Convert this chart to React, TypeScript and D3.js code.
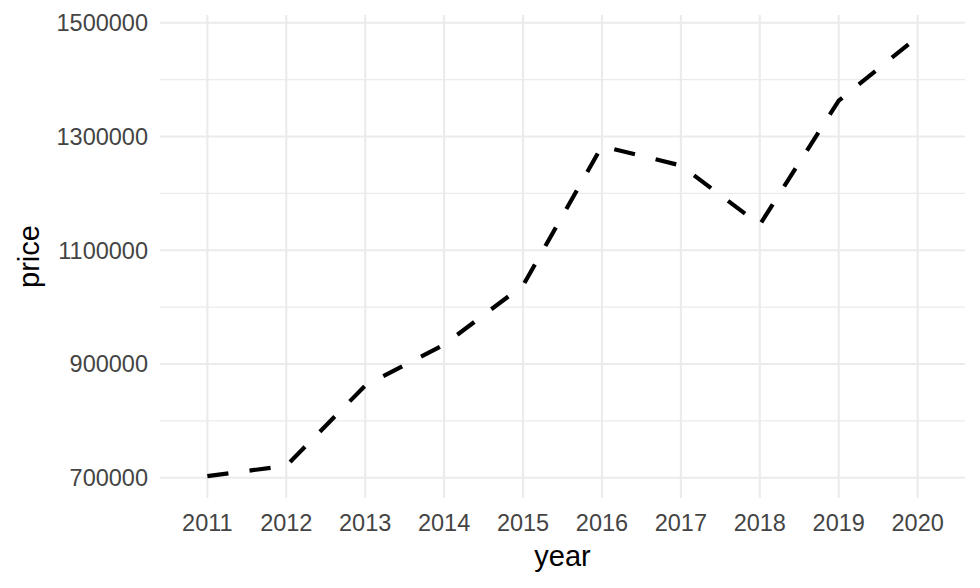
import React from "react";
import * as d3 from "d3";

const years = ["2011", "2012", "2013", "2014", "2015", "2016", "2017", "2018", "2019", "2020"];
const prices = [703000, 721000, 862000, 934000, 1038000, 1283000, 1249000, 1145000, 1363000, 1475000];
const yMajorTicks = [700000, 900000, 1100000, 1300000, 1500000];
const yMinorTicks = [800000, 1000000, 1200000, 1400000];
const xTitle = "year";
const yTitle = "price";

const W = 980;
const H = 588;
const panel = { left: 160, right: 965, top: 15, bottom: 498 };
const FONT = "Liberation Sans, Arial, sans-serif";
const TICK_FS = 23.5;
const TITLE_FS = 29;

export default function App() {
  const x = d3.scalePoint<string>().domain(years).range([panel.left, panel.right]).padding(0.6);
  const ext = d3.extent(prices) as [number, number];
  const pad = (ext[1] - ext[0]) * 0.05;
  const y = d3.scaleLinear().domain([ext[0] - pad, ext[1] + pad]).range([panel.bottom, panel.top]);
  const line = d3
    .line<number>()
    .x((_, i) => x(years[i]) as number)
    .y((d) => y(d));

  return (
    <svg width={W} height={H} style={{ position: "absolute", left: 0, top: 0, background: "#fff" }}>
      <rect x={0} y={0} width={W} height={H} fill="#fff" />
      {yMinorTicks.map((t) => (
        <line key={"mi" + t} x1={panel.left} x2={panel.right} y1={y(t)} y2={y(t)} stroke="#EBEBEB" strokeWidth={1.1} />
      ))}
      {yMajorTicks.map((t) => (
        <line key={"ma" + t} x1={panel.left} x2={panel.right} y1={y(t)} y2={y(t)} stroke="#EBEBEB" strokeWidth={2.1} />
      ))}
      {years.map((yr) => (
        <line key={"vx" + yr} x1={x(yr)} x2={x(yr)} y1={panel.top} y2={panel.bottom} stroke="#EBEBEB" strokeWidth={2.1} />
      ))}
      <path d={line(prices) || ""} fill="none" stroke="#000" strokeWidth={4.2} strokeDasharray="21.25 21.25" strokeLinejoin="round" />
      {yMajorTicks.map((t) => (
        <text key={"yl" + t} x={148} y={y(t)} dy="0.36em" textAnchor="end" fontFamily={FONT} fontSize={TICK_FS} fill="#444444">
          {String(t)}
        </text>
      ))}
      {years.map((yr) => (
        <text key={"xl" + yr} x={x(yr)} y={531} textAnchor="middle" fontFamily={FONT} fontSize={TICK_FS} fill="#444444">
          {yr}
        </text>
      ))}
      <text x={(panel.left + panel.right) / 2} y={566} textAnchor="middle" fontFamily={FONT} fontSize={TITLE_FS} fill="#000">
        {xTitle}
      </text>
      <text
        transform={`translate(39,${(panel.top + panel.bottom) / 2}) rotate(-90)`}
        x={0}
        y={0}
        textAnchor="middle"
        fontFamily={FONT}
        fontSize={TITLE_FS}
        fill="#000"
      >
        {yTitle}
      </text>
    </svg>
  );
}
